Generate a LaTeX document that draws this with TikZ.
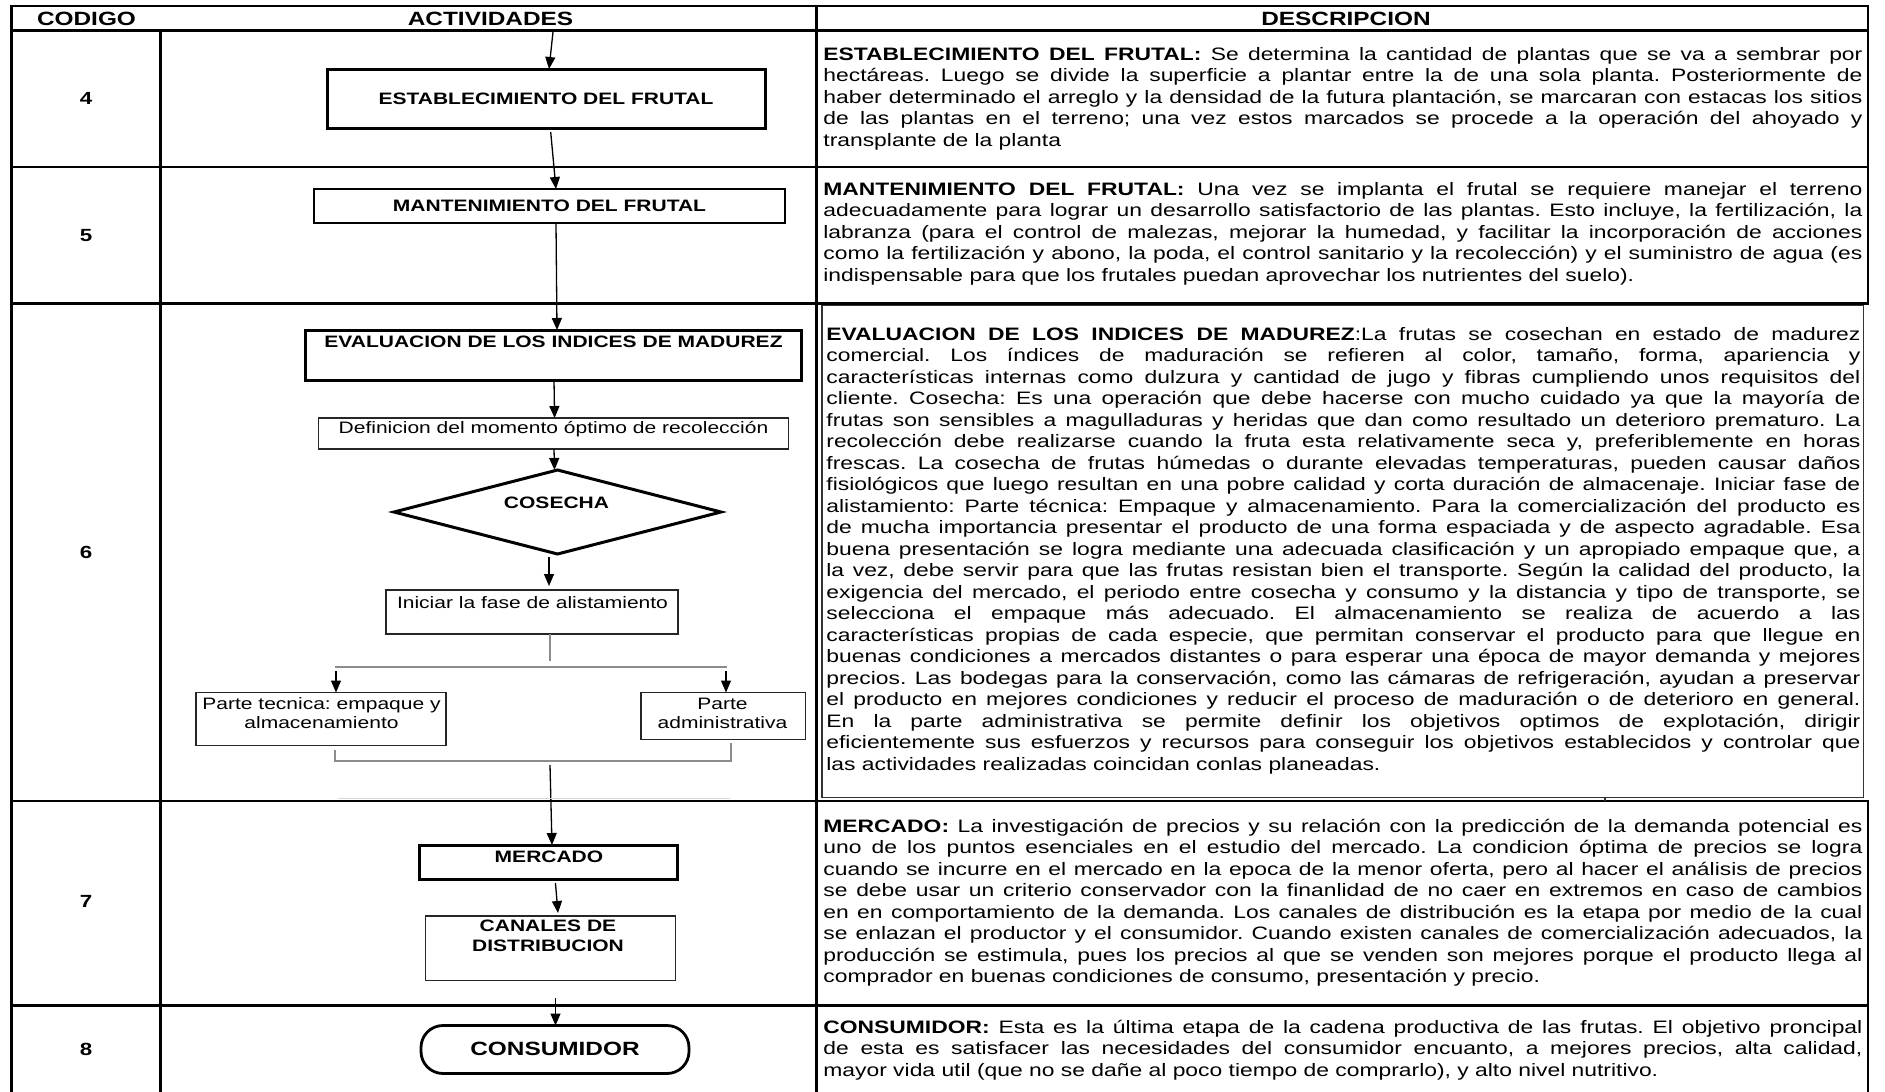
\documentclass[tikz,border=0pt]{standalone}
\usepackage{fontspec}
\setmainfont{Liberation Sans}[FakeStretch=1.27]
\usetikzlibrary{arrows.meta,shapes.geometric}
\frenchspacing
\newcommand\ffont{\fontsize{8.27}{9.75}\selectfont}
\newcommand\hfont{\fontsize{9.6}{11}\selectfont}
\newcommand\cfont{\fontsize{8.8}{10}\selectfont}
\newcommand\dfont{\fontsize{9}{10.75}\selectfont}
\newcommand\bigfont{\fontsize{9.6}{11}\selectfont}
\newdimen\descw
\newcommand\jl[1]{\hbox to \descw{\strut#1}}
\newcommand\lastl[1]{\hbox{\strut#1}}
\tikzset{
 tline/.style={line width=1.35pt, line cap=rect},
 thinbox/.style={draw=black!80, line width=0.6pt},
 fbox/.style={draw, line width=1.5pt, inner sep=0pt, outer sep=0pt},
 fthin/.style={draw=black!85, line width=0.6pt, inner sep=0pt, outer sep=0pt},
 arr/.style={line width=0.65pt, -{Triangle[width=5pt,length=6pt]}},
 conn/.style={draw=black!45, line width=0.6pt},
 ft/.style={font=\ffont, inner sep=0pt, anchor=base},
 fb/.style={font=\ffont\bfseries, inner sep=0pt, anchor=base},
 hd/.style={font=\hfont\bfseries, inner sep=0pt, anchor=base},
 code/.style={font=\cfont\bfseries, inner sep=0pt, anchor=base},
 desc/.style={inner sep=0pt, anchor=north west},
}
\begin{document}
\begin{tikzpicture}[x=0.5pt,y=-0.5pt]
\fill[white] (0,0) rectangle (1885,1092);
\useasboundingbox (0,0) rectangle (1885,1092);
% table grid
\draw[tline] (11.7,6) -- (1868,6);
\draw[tline] (11.7,30.5) -- (1868,30.5);
\draw[tline] (11.7,167) -- (1868,167);
\draw[tline] (11.7,303.5) -- (1868,303.5);
\draw[tline] (11.7,801) -- (1868,801);
\draw[tline] (11.7,1005.5) -- (1868,1005.5);
\draw[tline] (11.7,6) -- (11.7,1100);
\draw[tline] (160.5,30.5) -- (160.5,1100);
\draw[tline] (816.5,6) -- (816.5,1100);
\draw[tline] (1868,6) -- (1868,303.5);
\draw[tline] (1868,801) -- (1868,1100);
\draw[thinbox] (822,305.5) rectangle (1863.5,797.5);
\draw[thinbox] (1605,797.5) -- (1605,801);
% headers
\node[hd] (hc) at (86.5,25.5) {CODIGO};
\node[hd] (ha) at (490.5,25.5) {ACTIVIDADES};
\node[hd] (hdsc) at (1346,25.5) {DESCRIPCION};
% codes
\node[code] (c4) at (86,104) {4};
\node[code] (c5) at (86,241) {5};
\node[code] (c6) at (86,558.5) {6};
\node[code] (c7) at (86,907) {7};
\node[code] (c8) at (86,1055) {8};
% flowchart boxes
\node[fbox, minimum width=219pt, minimum height=29.5pt] (b1) at (546,98.5) {};
\node[fbox, line width=1.45pt, minimum width=235.5pt, minimum height=17pt] (b2) at (549.5,206) {};
\node[fbox, minimum width=248pt, minimum height=25pt] (b3) at (553,355) {};
\node[fthin, minimum width=235pt, minimum height=15.5pt] (b4) at (553.6,433.5) {};
\node[fbox, diamond, minimum width=163.5pt, minimum height=42pt] (d5) at (557.5,512) {};
\node[fthin, minimum width=146pt, minimum height=22pt] (b6) at (532,612) {};
\node[fthin, minimum width=125pt, minimum height=26.5pt] (b7) at (321,719) {};
\node[fthin, minimum width=82.25pt, minimum height=23.5pt] (b8) at (723.25,716) {};
\node[fbox, minimum width=128.75pt, minimum height=17pt] (b9) at (548.25,862) {};
\node[fthin, minimum width=125pt, minimum height=32.25pt] (b10) at (550.6,948.25) {};
\node[fbox, line width=1.4pt, rounded corners=11pt, minimum width=134pt, minimum height=24pt] (b11) at (555,1049.5) {};
% flowchart texts
\node[fb] (t1) at (546,104.5) {ESTABLECIMIENTO DEL FRUTAL};
\node[fb] (t2) at (549.5,211.5) {MANTENIMIENTO DEL FRUTAL};
\node[fb] (t3) at (553.5,347) {EVALUACION DE LOS INDICES DE MADUREZ};
\node[ft] (t4) at (553.5,433.5) {Definicion del momento óptimo de recolección};
\node[fb] (t5) at (556.5,508) {COSECHA};
\node[ft] (t6) at (532.5,608) {Iniciar la fase de alistamiento};
\node[ft] (t7a) at (321.5,709) {Parte tecnica: empaque y};
\node[ft] (t7b) at (321.5,728.5) {almacenamiento};
\node[ft] (t8a) at (722.5,709) {Parte};
\node[ft] (t8b) at (722.5,728.5) {administrativa};
\node[fb] (t9) at (549,862) {MERCADO};
\node[fb] (t10a) at (548,931.5) {CANALES DE};
\node[fb] (t10b) at (548,951) {DISTRIBUCION};
\node[inner sep=0pt, anchor=base, font=\bigfont\bfseries] (t11) at (555,1055) {CONSUMIDOR};
% connectors
\coordinate (s0) at (553,32);
\draw[arr] (s0) -- ([xshift=1.5pt]b1.north);
\draw[arr] ([xshift=2.35pt,yshift=-2pt]b1.south) -- ([xshift=3.25pt]b2.north);
\draw[arr] ([xshift=3.25pt]b2.south) -- ([xshift=2pt]b3.north);
\draw[arr] ([xshift=0.5pt]b3.south) -- ([xshift=0.5pt]b4.north);
\draw[arr] ([xshift=0.2pt]b4.south) -- ([xshift=-1.5pt]d5.north);
\draw[arr] ([xshift=-4.25pt,yshift=-1.5pt]d5.south) -- ([xshift=8.5pt,yshift=2pt]b6.north);
\coordinate (j) at (550,661);
\coordinate (hl) at (335,667);
\coordinate (hr) at (727,667);
\draw[conn] ([xshift=9pt]b6.south) -- (j);
\draw[conn] (hl) -- (hr);
\draw[arr] ([xshift=7.5pt,yshift=10.75pt]b7.north) -- ([xshift=7.5pt]b7.north);
\draw[arr] ([xshift=1.375pt,yshift=10.75pt]b8.north) -- ([xshift=1.375pt]b8.north);
\coordinate (bl) at (335,761);
\coordinate (br) at (731,761);
\draw[conn] ([xshift=7pt,yshift=-2.25pt]b7.south) -- (bl) -- (br) -- ([xshift=3.875pt,yshift=-1.75pt]b8.south);
\coordinate (bm) at (550,765);
\draw[arr] (bm) -- ([xshift=1.875pt]b9.north);
\coordinate (gl) at (338,798.5);
\coordinate (gr) at (730,798.5);
\draw[conn, draw=black!15] (gl) -- (gr);
\draw[arr] ([xshift=3.6pt,yshift=-2pt]b9.south) -- ([xshift=3.7pt,yshift=1.5pt]b10.north);
\draw[arr] ([xshift=2.45pt,yshift=-8.75pt]b10.south) -- ([xshift=0.25pt]b11.north);
% descriptions
\node[desc] (d4) at (823,45) {\vbox{\dfont\descw=519.5pt
\jl{\textbf{ESTABLECIMIENTO DEL FRUTAL:} Se determina la cantidad de plantas que se va a sembrar por}
\jl{hectáreas. Luego se divide la superficie a plantar entre la de una sola planta. Posteriormente de}
\jl{haber determinado el arreglo y la densidad de la futura plantación, se marcaran con estacas los sitios}
\jl{de las plantas en el terreno; una vez estos marcados se procede a la operación del ahoyado y}
\lastl{transplante de la planta}}};
\node[desc] (d5t) at (823,180) {\vbox{\dfont\descw=519.5pt
\jl{\textbf{MANTENIMIENTO DEL FRUTAL:} Una vez se implanta el frutal se requiere manejar el terreno}
\jl{adecuadamente para lograr un desarrollo satisfactorio de las plantas. Esto incluye, la fertilización, la}
\jl{labranza (para el control de malezas, mejorar la humedad, y facilitar la incorporación de acciones}
\jl{como la fertilización y abono, la poda, el control sanitario y la recolección) y el suministro de agua (es}
\lastl{indispensable para que los frutales puedan aprovechar los nutrientes del suelo).}}};
\node[desc] (d6) at (826,325) {\vbox{\dfont\descw=517pt
\jl{\textbf{EVALUACION DE LOS INDICES DE MADUREZ}:La frutas se cosechan en estado de madurez}
\jl{comercial. Los índices de maduración se refieren al color, tamaño, forma, apariencia y}
\jl{características internas como dulzura y cantidad de jugo y fibras cumpliendo unos requisitos del}
\jl{cliente. Cosecha: Es una operación que debe hacerse con mucho cuidado ya que la mayoría de}
\jl{frutas son sensibles a magulladuras y heridas que dan como resultado un deterioro prematuro. La}
\jl{recolección debe realizarse cuando la fruta esta relativamente seca y, preferiblemente en horas}
\jl{frescas. La cosecha de frutas húmedas o durante elevadas temperaturas, pueden causar daños}
\jl{fisiológicos que luego resultan en una pobre calidad y corta duración de almacenaje. Iniciar fase de}
\jl{alistamiento: Parte técnica: Empaque y almacenamiento. Para la comercialización del producto es}
\jl{de mucha importancia presentar el producto de una forma espaciada y de aspecto agradable. Esa}
\jl{buena presentación se logra mediante una adecuada clasificación y un apropiado empaque que, a}
\jl{la vez, debe servir para que las frutas resistan bien el transporte. Según la calidad del producto, la}
\jl{exigencia del mercado, el periodo entre cosecha y consumo y la distancia y tipo de transporte, se}
\jl{selecciona el empaque más adecuado. El almacenamiento se realiza de acuerdo a las}
\jl{características propias de cada especie, que permitan conservar el producto para que llegue en}
\jl{buenas condiciones a mercados distantes o para esperar una época de mayor demanda y mejores}
\jl{precios. Las bodegas para la conservación, como las cámaras de refrigeración, ayudan a preservar}
\jl{el producto en mejores condiciones y reducir el proceso de maduración o de deterioro en general.}
\jl{En la parte administrativa se permite definir los objetivos optimos de explotación, dirigir}
\jl{eficientemente sus esfuerzos y recursos para conseguir los objetivos establecidos y controlar que}
\lastl{las actividades realizadas coincidan conlas planeadas.}}};
\node[desc] (d7) at (823,817) {\vbox{\dfont\descw=519.5pt
\jl{\textbf{MERCADO:} La investigación de precios y su relación con la predicción de la demanda potencial es}
\jl{uno de los puntos esenciales en el estudio del mercado. La condicion óptima de precios se logra}
\jl{cuando se incurre en el mercado en la epoca de la menor oferta, pero al hacer el análisis de precios}
\jl{se debe usar un criterio conservador con la finanlidad de no caer en extremos en caso de cambios}
\jl{en en comportamiento de la demanda. Los canales de distribución es la etapa por medio de la cual}
\jl{se enlazan el productor y el consumidor. Cuando existen canales de comercialización adecuados, la}
\jl{producción se estimula, pues los precios al que se venden son mejores porque el producto llega al}
\lastl{comprador en buenas condiciones de consumo, presentación y precio.}}};
\node[desc] (d8) at (823,1018) {\vbox{\dfont\descw=519.5pt
\jl{\textbf{CONSUMIDOR:} Esta es la última etapa de la cadena productiva de las frutas. El objetivo proncipal}
\jl{de esta es satisfacer las necesidades del consumidor encuanto, a mejores precios, alta calidad,}
\lastl{mayor vida util (que no se dañe al poco tiempo de comprarlo), y alto nivel nutritivo.}}};
\end{tikzpicture}
\end{document}
